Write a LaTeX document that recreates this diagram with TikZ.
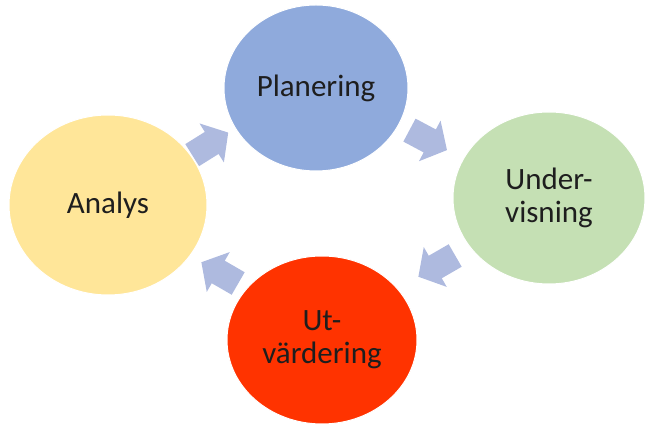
\documentclass[tikz,border=0pt]{standalone}
\usepackage{fontspec}
\setmainfont{Carlito}
\usetikzlibrary{shapes.geometric}
\definecolor{cplan}{HTML}{8FAADC}
\definecolor{cunder}{HTML}{C5E0B4}
\definecolor{cana}{HTML}{FFE699}
\definecolor{cut}{HTML}{FF3300}
\definecolor{carrow}{HTML}{AEBADF}
\definecolor{ctext}{HTML}{1E1E1E}
\tikzset{
  phase/.style={ellipse, inner sep=0pt, draw=white, line width=1pt,
    text=ctext, align=center, font=\fontsize{31}{33}\selectfont},
  blockarrow/.style={fill=carrow, draw=none}
}
\newcommand{\cyclearrow}[2]{%
  \begin{scope}[shift={(#1)}, rotate=#2]
    \fill[blockarrow] (-21,-13) -- (2,-13) -- (2,-23) -- (21.5,0) -- (2,23) -- (2,13) -- (-21,13) -- cycle;
  \end{scope}}
\begin{document}
\begin{tikzpicture}[x=1pt, y=1pt]
  \useasboundingbox (0,0) rectangle (646,428);
  \node[phase, fill=cplan, minimum width=184pt, minimum height=166pt] (plan) at (316,340) {Planering};
  \node[phase, fill=cunder, minimum width=192pt, minimum height=172pt] (under) at (549,230) {Under-\\visning};
  \node[phase, fill=cut, minimum width=190pt, minimum height=168pt] (utv) at (322,88) {Ut-\\värdering};
  \node[phase, fill=cana, minimum width=198pt, minimum height=180pt] (ana) at (108,223) {Analys};
  \coordinate (a1) at (428,288);
  \coordinate (a2) at (437,162);
  \coordinate (a3) at (220,155);
  \coordinate (a4) at (210,284);
  \cyclearrow{a1}{-28}
  \cyclearrow{a2}{210}
  \cyclearrow{a3}{150}
  \cyclearrow{a4}{32}
\end{tikzpicture}
\end{document}
